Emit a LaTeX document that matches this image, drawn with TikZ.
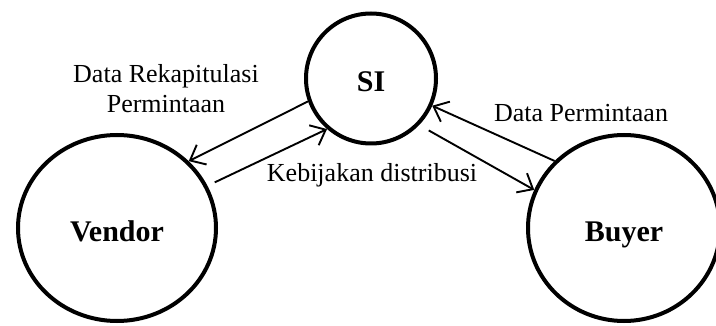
\documentclass[tikz,border=0pt]{standalone}
\usepackage{fontspec}
\setmainfont{Liberation Serif}
\usetikzlibrary{arrows.meta,shapes.geometric}
\begin{document}
\begin{tikzpicture}[x=1pt,y=-1pt,
	entity/.style={draw, line width=4pt, inner sep=0pt, text height=27pt, text depth=0pt, font=\bfseries\fontsize{30}{36}\selectfont},
	flow/.style={-{Straight Barb[length=13pt,width=22pt]}, line width=1.9pt},
	lbl/.style={font=\fontsize{26}{30}\selectfont, align=center, inner sep=0pt}]

	\useasboundingbox (0,0) rectangle (716,326);

	\node[entity, circle, minimum size=130pt] (si) at (371,78.5) {SI};
	\node[entity, ellipse, minimum width=198pt, minimum height=186pt] (vendor) at (117,228) {Vendor};
	\node[entity, ellipse, minimum width=192pt, minimum height=186pt] (buyer) at (624,228) {Buyer};

	\draw[flow] (si.200) -- (vendor.43);
	\draw[flow, shorten <=8pt] (vendor.25) -- (si.229);
	\draw[flow] (buyer.136) -- (si.336);
	\draw[flow, shorten <=11pt] (si.316) -- (buyer.157);

	\node[lbl] (rekap) at (166,89) {Data Rekapitulasi\\Permintaan};
	\node[lbl, anchor=base] (kebijakan) at (372,182) {Kebijakan distribusi};
	\node[lbl, anchor=base] (minta) at (581,122) {Data Permintaan};
\end{tikzpicture}
\end{document}
